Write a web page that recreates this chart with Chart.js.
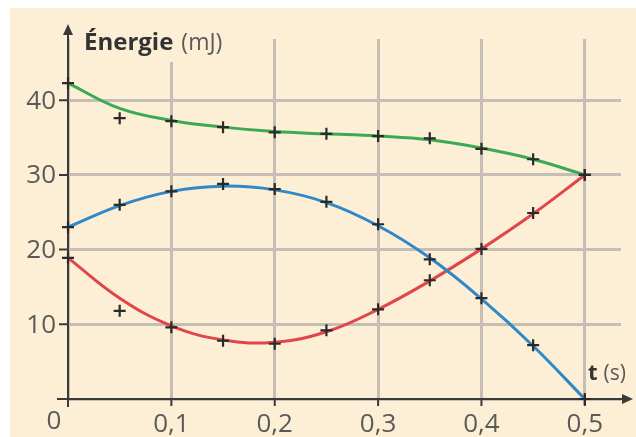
<!DOCTYPE html>
<html>
<head>
<meta charset="utf-8">
<script src="https://cdn.jsdelivr.net/npm/chart.js@4"></script>
<style>
  html, body { margin: 0; padding: 0; background: #fff; }
  canvas { display: block; }
</style>
</head>
<body>
<canvas id="myChart" width="636" height="437"></canvas>
<script>
// measured points (+)
const tPoints = [0, 0.05, 0.1, 0.15, 0.2, 0.25, 0.3, 0.35, 0.4, 0.45, 0.5];
const greenPoints = [42.3, 37.6, 37.2, 36.4, 35.7, 35.5, 35.2, 34.9, 33.5, 32.1, 30];
const bluePoints = [23.0, 26.0, 27.8, 28.8, 28.1, 26.4, 23.4, 18.7, 13.5, 7.2, 0];
const redPoints = [18.9, 11.8, 9.6, 7.8, 7.4, 9.2, 12.0, 15.9, 20.1, 24.9, 30];

// smooth curves
const tCurve = [0, 0.05, 0.1, 0.15, 0.2, 0.25, 0.3, 0.35, 0.4, 0.45, 0.5];
const greenCurve = [42.3, 38.9, 37.3, 36.4, 35.8, 35.5, 35.2, 34.7, 33.6, 32.1, 30];
const blueCurve = [23.0, 25.9, 27.8, 28.5, 28.0, 26.3, 23.2, 18.9, 13.4, 7.1, 0];
const redCurve = [18.9, 13.5, 9.8, 7.9, 7.6, 9.0, 12.0, 15.8, 20.1, 24.8, 30];

const xTicks = [0, 0.1, 0.2, 0.3, 0.4, 0.5];
const xTickLabels = ['0', '0,1', '0,2', '0,3', '0,4', '0,5'];
const yTicks = [0, 10, 20, 30, 40];

const BEIGE = '#fdefd5';
const AXIS = '#3a3a3a';
const LABEL = '#5a5a5a';

const toXY = (xs, ys) => xs.map((x, i) => ({x: x, y: ys[i]}));

function curve(ys, color) {
  return {
    data: toXY(tCurve, ys),
    borderColor: color,
    borderWidth: 3,
    pointRadius: 0,
    tension: 0.4,
    showLine: true,
    clip: false,
    order: 2
  };
}
function marks(ys) {
  return {
    data: toXY(tPoints, ys),
    showLine: false,
    pointStyle: 'cross',
    pointRadius: 6,
    pointBorderWidth: 2.2,
    pointBorderColor: '#2a2a2a',
    clip: false,
    order: 1
  };
}

const decor = {
  id: 'decor',
  beforeDraw(chart) {
    const ctx = chart.ctx;
    ctx.save();
    ctx.fillStyle = BEIGE;
    ctx.fillRect(10, 8, chart.width - 10, chart.height - 8);
    ctx.restore();
  },
  beforeDatasetsDraw(chart) {
    const ctx = chart.ctx;
    const xs = chart.scales.x, ys = chart.scales.y;
    const x0 = xs.getPixelForValue(0), y0 = ys.getPixelForValue(0);
    ctx.save();
    // title box covering grid
    ctx.fillStyle = BEIGE;
    ctx.fillRect(80, 26, 165, 36);
    // axes
    ctx.strokeStyle = AXIS;
    ctx.fillStyle = AXIS;
    ctx.lineWidth = 2;
    ctx.beginPath();
    ctx.moveTo(x0, y0 + 8);
    ctx.lineTo(x0, 32);
    ctx.moveTo(x0 - 11, y0);
    ctx.lineTo(624, y0);
    yTicks.slice(1).forEach(v => {
      const py = ys.getPixelForValue(v);
      ctx.moveTo(x0 - 9, py);
      ctx.lineTo(x0, py);
    });
    xTicks.slice(1).forEach(v => {
      const px = xs.getPixelForValue(v);
      ctx.moveTo(px, y0);
      ctx.lineTo(px, y0 + 7);
    });
    ctx.stroke();
    // arrows
    ctx.beginPath();
    ctx.moveTo(x0, 24);
    ctx.lineTo(x0 - 5, 35);
    ctx.lineTo(x0 + 5, 35);
    ctx.closePath();
    ctx.fill();
    ctx.beginPath();
    ctx.moveTo(633, y0);
    ctx.lineTo(622, y0 - 5);
    ctx.lineTo(622, y0 + 5);
    ctx.closePath();
    ctx.fill();

    // tick labels
    ctx.fillStyle = LABEL;
    ctx.font = '26px "Open Sans"';
    ctx.textAlign = 'right';
    ctx.textBaseline = 'middle';
    yTicks.slice(1).forEach(v => {
      ctx.fillText(String(v), x0 - 12, ys.getPixelForValue(v) + 1);
    });
    ctx.textAlign = 'center';
    ctx.textBaseline = 'alphabetic';
    xTicks.forEach((v, i) => {
      let px = xs.getPixelForValue(v);
      if (i === 0) px -= 14;
      ctx.fillText(xTickLabels[i], px, i === 0 ? 429 : 432);
    });

    // axis titles
    ctx.textAlign = 'left';
    ctx.textBaseline = 'middle';
    ctx.fillStyle = '#333';
    ctx.font = 'bold 24px "Open Sans"';
    ctx.fillText('Énergie', 84, 43);
    let w = ctx.measureText('Énergie').width + 8;
    ctx.fillStyle = LABEL;
    ctx.font = '23px "Open Sans"';
    ctx.fillText('(mJ)', 84 + w, 43);

    ctx.fillStyle = '#333';
    ctx.font = 'bold 22px "Open Sans"';
    ctx.fillText('t', 588, 374);
    w = ctx.measureText('t').width + 6;
    ctx.fillStyle = LABEL;
    ctx.font = '21px "Open Sans"';
    ctx.fillText('(s)', 588 + w, 374);
    ctx.restore();
  }
};

const gridOpts = {
  color: '#c6beb4',
  lineWidth: 3,
  drawTicks: false
};

const config = {
  type: 'scatter',
  data: {
    datasets: [
      curve(greenCurve, '#3aaa55'),
      curve(blueCurve, '#2f88c8'),
      curve(redCurve, '#e0454a'),
      marks(greenPoints),
      marks(bluePoints),
      marks(redPoints)
    ]
  },
  options: {
    responsive: false,
    animation: false,
    events: [],
    layout: { padding: { left: 68, top: 39, right: 15, bottom: 38 } },
    plugins: { legend: { display: false }, tooltip: { enabled: false } },
    scales: {
      x: {
        type: 'linear',
        min: 0, max: 0.535,
        afterBuildTicks: s => { s.ticks = xTicks.map(v => ({value: v})); },
        ticks: { display: false },
        grid: gridOpts,
        border: { display: false }
      },
      y: {
        type: 'linear',
        min: 0, max: 48.2,
        afterBuildTicks: s => { s.ticks = yTicks.map(v => ({value: v})); },
        ticks: { display: false },
        grid: gridOpts,
        border: { display: false }
      }
    }
  },
  plugins: [decor]
};

const myChart = new Chart(document.getElementById('myChart'), config);
</script>
</body>
</html>
